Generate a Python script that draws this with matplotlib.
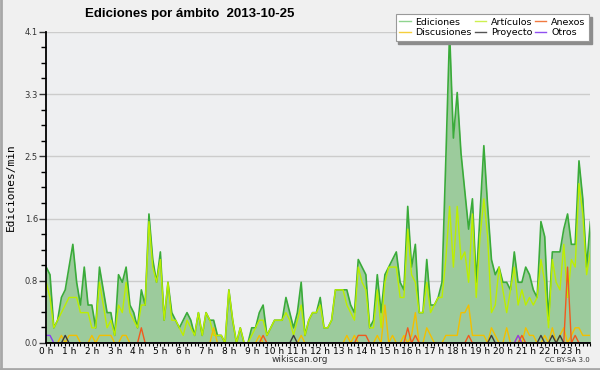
import numpy as np
import matplotlib
matplotlib.use("Agg")
from matplotlib import pyplot as plt
from matplotlib.lines import Line2D

# edits per minute, one value per 10 minutes (144 slots)
ediciones = [1.0, 0.9, 0.2, 0.3, 0.6, 0.7, 1.0, 1.3, 0.8, 0.5, 1.0, 0.5,
             0.5, 0.2, 1.0, 0.7, 0.4, 0.4, 0.1, 0.9, 0.8, 1.0, 0.5, 0.4,
             0.2, 0.7, 0.5, 1.7, 1.1, 0.8, 1.2, 0.3, 0.8, 0.4, 0.3, 0.2,
             0.3, 0.4, 0.3, 0.1, 0.4, 0.1, 0.4, 0.3, 0.3, 0.1, 0.1, 0.0,
             0.7, 0.3, 0.0, 0.2, 0.0, 0.0, 0.2, 0.2, 0.4, 0.5, 0.1, 0.2,
             0.3, 0.3, 0.3, 0.6, 0.4, 0.2, 0.4, 0.8, 0.1, 0.3, 0.4, 0.4,
             0.6, 0.2, 0.2, 0.3, 0.7, 0.7, 0.7, 0.7, 0.5, 0.4, 1.1, 1.0,
             0.9, 0.2, 0.3, 0.9, 0.4, 0.9, 1.0, 1.1, 1.2, 0.8, 0.7, 1.8,
             1.0, 1.3, 0.4, 0.4, 1.1, 0.5, 0.5, 0.6, 0.8, 2.4, 4.1, 2.7,
             3.3, 2.5, 2.0, 1.5, 1.9, 0.8, 1.7, 2.6, 1.8, 1.1, 0.9, 1.0,
             0.8, 0.8, 0.7, 1.2, 0.8, 0.8, 1.0, 0.9, 0.7, 0.6, 1.6, 1.4,
             0.3, 1.2, 1.2, 1.2, 1.5, 1.7, 1.3, 1.3, 2.4, 1.9, 1.0, 1.6]

articulos = [0.8, 0.6, 0.2, 0.3, 0.4, 0.5, 0.6, 0.6, 0.6, 0.4, 0.4, 0.4,
             0.2, 0.2, 0.8, 0.5, 0.2, 0.3, 0.1, 0.5, 0.4, 0.8, 0.4, 0.3,
             0.2, 0.5, 0.5, 1.6, 1.0, 0.8, 1.1, 0.3, 0.8, 0.3, 0.3, 0.2,
             0.1, 0.3, 0.2, 0.1, 0.4, 0.1, 0.4, 0.3, 0.1, 0.1, 0.1, 0.0,
             0.7, 0.3, 0.0, 0.2, 0.0, 0.0, 0.1, 0.2, 0.3, 0.3, 0.1, 0.2,
             0.3, 0.3, 0.3, 0.4, 0.3, 0.1, 0.3, 0.5, 0.1, 0.3, 0.4, 0.4,
             0.5, 0.2, 0.2, 0.3, 0.7, 0.7, 0.7, 0.5, 0.4, 0.3, 1.0, 0.8,
             0.7, 0.2, 0.2, 0.7, 0.2, 0.8, 1.0, 1.0, 1.0, 0.6, 0.6, 1.5,
             0.9, 0.8, 0.4, 0.4, 0.8, 0.4, 0.5, 0.6, 0.6, 1.1, 1.8, 1.0,
             1.8, 1.1, 1.2, 0.8, 1.7, 0.6, 1.4, 1.9, 1.4, 0.4, 0.5, 1.0,
             0.7, 0.4, 0.7, 1.0, 0.5, 0.7, 0.5, 0.6, 0.5, 0.6, 1.1, 0.8,
             0.2, 1.1, 0.8, 0.7, 1.3, 0.6, 1.1, 1.0, 2.1, 1.7, 0.9, 1.2]

# sparse series: {slot: value}
discusiones = {4: 0.1, 6: 0.1, 7: 0.1, 8: 0.1, 12: 0.1, 14: 0.1, 15: 0.1,
               16: 0.1, 17: 0.1, 20: 0.1, 21: 0.1, 44: 0.2, 56: 0.1, 67: 0.1,
               79: 0.1, 81: 0.1, 87: 0.1, 89: 0.5, 91: 0.1, 94: 0.1, 96: 0.1,
               97: 0.4, 100: 0.2, 101: 0.1, 105: 0.1, 106: 0.1, 107: 0.1,
               108: 0.1, 109: 0.4, 110: 0.4, 111: 0.5, 112: 0.1, 113: 0.1,
               114: 0.1, 115: 0.1, 117: 0.2, 118: 0.1, 121: 0.2, 124: 0.1,
               126: 0.2, 127: 0.1, 128: 0.1, 131: 0.1, 133: 0.2, 135: 0.1,
               136: 0.2, 138: 0.1, 139: 0.2, 140: 0.2, 141: 0.1, 142: 0.1,
               143: 0.1}
anexos = {25: 0.2, 57: 0.1, 82: 0.1, 83: 0.1, 84: 0.1, 95: 0.2, 97: 0.1,
          111: 0.1, 125: 0.1, 137: 1.0, 139: 0.1}
proyecto = {5: 0.1, 65: 0.1, 117: 0.1, 130: 0.1, 133: 0.1, 135: 0.1}
otros = {0: 0.1, 1: 0.1, 124: 0.1}

hour_labels = ['%d h' % h for h in range(24)]


def dense(d, n=144):
    out = np.zeros(n)
    for k, v in d.items():
        out[k] = v
    return out


t = np.arange(144) / 6.0

fig = plt.figure(figsize=(6, 3.7), dpi=100, facecolor='#f0f0f0')
ax = fig.add_axes([0.077, 0.073, 0.907, 0.841])
ax.set_facecolor('#eeeff1')

ax.fill_between(t, 0, ediciones, color='#9ccb9c', lw=0, zorder=1)
ax.plot(t, ediciones, color='#3aab3a', lw=1.2, zorder=3)
ax.plot(t, articulos, color='#bcee00', lw=1.0, zorder=3)
ax.plot(t, dense(discusiones), color='#f2c000', lw=1.0, zorder=3)
ax.plot(t, dense(anexos), color='#f05a1e', lw=1.0, zorder=3)
ax.plot(t, dense(proyecto), color='#3c3c3c', lw=1.0, zorder=3)
ax.plot(t, dense(otros), color='#8a3cf0', lw=1.0, zorder=3)

ymax = max(ediciones)
ax.set_xlim(0, 143 / 6.0)
ax.set_ylim(0, ymax)
yt = np.linspace(0, ymax, 6)
ax.set_yticks(yt)
ax.set_yticklabels(['%.1f' % v for v in yt])
ax.set_yticks(np.linspace(0, ymax, 21), minor=True)
ax.set_xticks(range(24))
ax.set_xticklabels(hour_labels)
ax.set_xticks(np.arange(0, 144) / 6.0, minor=True)
ax.yaxis.grid(True, color='#cccccc', lw=1)
ax.set_axisbelow(True)

for s in ['top', 'right']:
    ax.spines[s].set_visible(False)
for s in ['left', 'bottom']:
    ax.spines[s].set_linewidth(1.3)
    ax.spines[s].set_zorder(4)

ax.tick_params(axis='y', which='major', length=5, width=1, labelsize=6, pad=1, colors='#333333')
ax.tick_params(axis='y', which='minor', length=3.5, width=1)
ax.tick_params(axis='x', which='both', length=2.5, width=0.8, labelsize=6.5, pad=0.5)

ax.set_ylabel('Ediciones/min', family='DejaVu Sans Mono', fontsize=8, labelpad=6)

fig.text(0.142, 0.962, 'Ediciones por ámbito  2013-10-25', fontsize=9.5,
         family='Liberation Sans', fontweight='bold', ha='left', va='center')

handles = [Line2D([], [], color='#8fd48f', lw=1),
           Line2D([], [], color='#f5cf3c', lw=1),
           Line2D([], [], color='#cdf050', lw=1),
           Line2D([], [], color='#555555', lw=1),
           Line2D([], [], color='#f07a40', lw=1),
           Line2D([], [], color='#9050f0', lw=1)]
names = ['Ediciones', 'Discusiones', 'Artículos', 'Proyecto', 'Anexos', 'Otros']
leg = fig.legend(handles, names, ncol=3, loc='upper right',
                 bbox_to_anchor=(0.99, 0.975), fontsize=6.8, frameon=True,
                 fancybox=False, shadow=False, handlelength=1.2,
                 handletextpad=0.5, columnspacing=0.3, labelspacing=0.15,
                 borderpad=0.4, edgecolor='#999999', facecolor='white',
                 framealpha=1)
leg.get_frame().set_linewidth(0.8)
fig.canvas.draw()
bb = leg.get_window_extent().transformed(fig.transFigure.inverted())
sh = plt.Rectangle((bb.x0 + 0.004, bb.y0 - 0.007), bb.width, bb.height,
                   transform=fig.transFigure, color='#8c8c8c', zorder=leg.get_zorder() - 1)
fig.patches.append(sh)

fig.text(0.5, 0.022, 'wikiscan.org', fontsize=6.5, ha='center', color='#333333')
fig.text(0.983, 0.022, 'CC BY-SA 3.0', fontsize=5, ha='right', color='#333333')

# frame lines at left and bottom of the image
fig.add_artist(Line2D([0.002, 0.002], [0, 1], transform=fig.transFigure, color='#a8a8a8', lw=2))
fig.add_artist(Line2D([0, 1], [0.003, 0.003], transform=fig.transFigure, color='#a8a8a8', lw=2))

fig.savefig('out.png', dpi=100, facecolor=fig.get_facecolor())
